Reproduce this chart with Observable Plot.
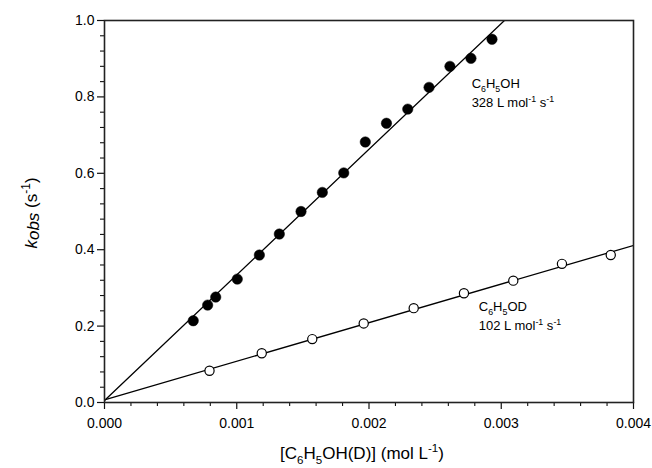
<!DOCTYPE html>
<html><head><meta charset="utf-8">
<script src="https://cdn.jsdelivr.net/npm/d3@7"></script>
<script src="https://cdn.jsdelivr.net/npm/@observablehq/plot@0.6"></script>
<style>
body{margin:0;background:#fff;}
#chart svg{display:block;font-family:"Liberation Sans",Arial,sans-serif;}
</style></head><body><div id="chart"></div>
<script>
// C6H5OH series (filled circles)
const ohConc = [0.000671,0.000780,0.000841,0.001004,0.001171,0.001322,0.001486,0.001647,0.001809,0.001972,0.002132,0.002293,0.002454,0.002612,0.002771,0.002930];
const ohKobs = [0.214,0.255,0.276,0.323,0.386,0.441,0.500,0.550,0.601,0.682,0.731,0.768,0.825,0.880,0.901,0.951];
// C6H5OD series (open circles)
const odConc = [0.000794,0.001189,0.001571,0.001960,0.002338,0.002718,0.003091,0.003459,0.003828];
const odKobs = [0.083,0.129,0.166,0.207,0.247,0.286,0.319,0.363,0.386];
// linear fits
const fitNames = ["OH","OD"];
const fitSlopes = [329, 101];
const fitIntercepts = [0.005, 0.007];
// ticks
const xTicks = [0, 0.001, 0.002, 0.003, 0.004];
const yTicks = [0, 0.2, 0.4, 0.6, 0.8, 1.0];
const xMinorTicks = [0.0002,0.0004,0.0006,0.0008,0.0012,0.0014,0.0016,0.0018,0.0022,0.0024,0.0026,0.0028,0.0032,0.0034,0.0036,0.0038];
const yMinorTicks = [0.04,0.08,0.12,0.16,0.24,0.28,0.32,0.36,0.44,0.48,0.52,0.56,0.64,0.68,0.72,0.76,0.84,0.88,0.92,0.96];
// annotations
const annotNames = [[["C",""],["6","sub"],["H",""],["5","sub"],["OH",""]],[["C",""],["6","sub"],["H",""],["5","sub"],["OD",""]]];
const annotRates = ["328","102"];
const annotX = [0.00278, 0.002834];
const annotY = [0.8207, 0.237];

const ohData = ohConc.map((c,i)=>({x:c, y:ohKobs[i]}));
const odData = odConc.map((c,i)=>({x:c, y:odKobs[i]}));
const xDomain = [0, 0.004];
const fitData = fitNames.flatMap((n,i)=>xDomain.map(x=>({series:n, x, y: fitIntercepts[i] + fitSlopes[i]*x})));

const chart = Plot.plot({
  width: 652, height: 468,
  marginLeft: 104, marginRight: 19, marginTop: 20, marginBottom: 66,
  x: {domain: xDomain},
  y: {domain: [0, 1]},
  style: {fontFamily: '"Liberation Sans", Arial, sans-serif', fontSize: "14px", color: "#000", background: "#fff"},
  marks: [
    Plot.axisX({ticks: xMinorTicks, tickSize: 4, tickFormat: () => "", label: null, stroke: "#111", strokeWidth: 1.1}),
    Plot.axisX({ticks: xTicks, tickSize: 7, tickPadding: 9, tickFormat: d3.format(".3f"), label: null, stroke: "#111", strokeWidth: 1.2, fill: "#000"}),
    Plot.axisY({ticks: yMinorTicks, tickSize: 4, tickFormat: () => "", label: null, stroke: "#111", strokeWidth: 1.1}),
    Plot.axisY({ticks: yTicks, tickSize: 7, tickPadding: 3, tickFormat: d3.format(".1f"), label: null, stroke: "#111", strokeWidth: 1.2, fill: "#000"}),
    Plot.line(fitData, {x: "x", y: "y", z: "series", stroke: "#000", strokeWidth: 1.3, clip: true}),
    Plot.frame({stroke: "#222", strokeWidth: 1.6}),
    Plot.dot(ohData, {x: "x", y: "y", r: 5.2, fill: "#000", stroke: "#000", strokeWidth: 0.5}),
    Plot.dot(odData, {x: "x", y: "y", r: 4.6, fill: "#fff", stroke: "#000", strokeWidth: 1.2})
  ]
});
document.getElementById("chart").appendChild(chart);

const svg = d3.select(chart);
const sx = chart.scale("x"), sy = chart.scale("y");

function rich(text, parts, size) {
  let shift = 0;
  parts.forEach(([t, kind]) => {
    let target = 0;
    if (kind === "sub") target = size * 0.3;
    if (kind === "sup") target = -size * 0.4;
    const ts = text.append("tspan").text(t);
    if (target !== shift) ts.attr("dy", target - shift);
    if (kind) ts.attr("font-size", size * 0.68);
    shift = target;
  });
}

annotNames.forEach((parts, i) => {
  const x0 = sx.apply(annotX[i]), y0 = sy.apply(annotY[i]);
  const t1 = svg.append("text").attr("x", x0).attr("y", y0).attr("text-anchor", "start").attr("font-size", 13).attr("fill", "#000");
  rich(t1, parts, 13);
  const t2 = svg.append("text").attr("x", x0).attr("y", y0 + 19).attr("text-anchor", "start").attr("font-size", 13).attr("fill", "#000");
  rich(t2, [[annotRates[i] + " L mol", ""], ["-1", "sup"], [" s", ""], ["-1", "sup"]], 13);
});

// axis titles
const xt = svg.append("text").attr("x", 362).attr("y", 459).attr("text-anchor", "middle").attr("font-size", 17).attr("fill", "#000");
rich(xt, [["[C", ""], ["6", "sub"], ["H", ""], ["5", "sub"], ["OH(D)] (mol L", ""], ["-1", "sup"], [")", ""]], 17);

const yt = svg.append("text").attr("transform", "translate(37,213) rotate(-90)").attr("text-anchor", "middle").attr("font-size", 17).attr("fill", "#000");
yt.append("tspan").attr("font-style", "italic").text("k");
yt.append("tspan").attr("font-style", "italic").attr("dy", 2).text("obs");
yt.append("tspan").attr("dy", -2).text(" (s");
yt.append("tspan").attr("dy", -7).attr("font-size", 12).text("-1");
yt.append("tspan").attr("dy", 7).text(")");
</script>
</body></html>
